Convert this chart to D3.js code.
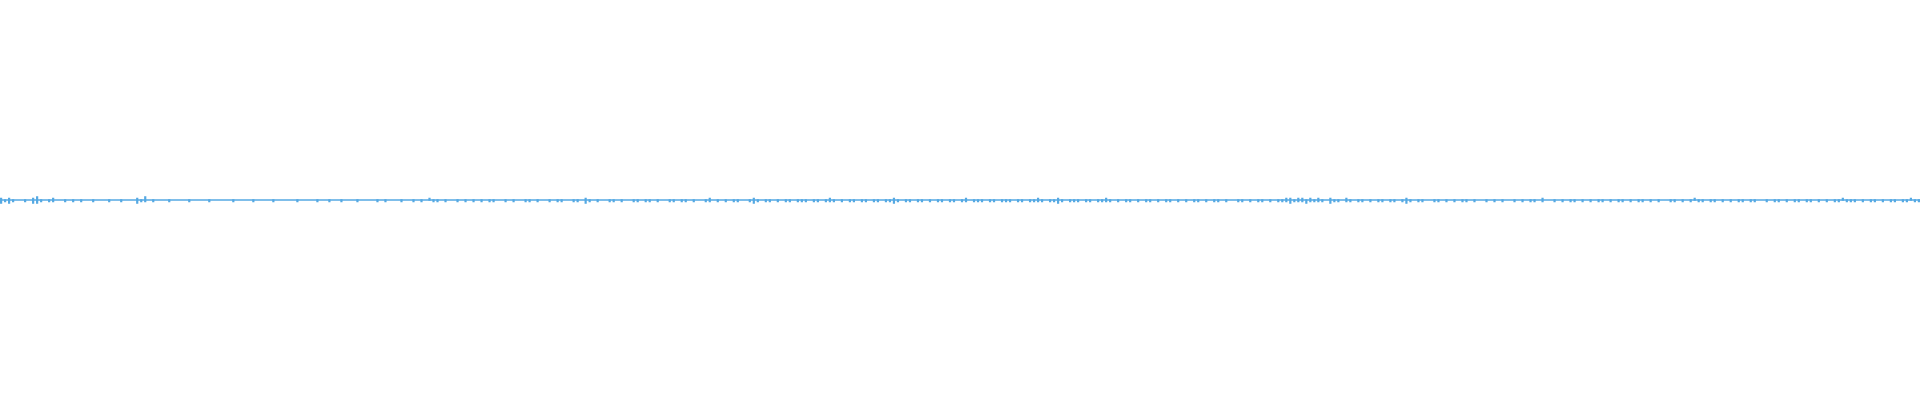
<!DOCTYPE html>
<html><head><meta charset="utf-8">
<script src="https://cdn.jsdelivr.net/npm/d3@7"></script>
<style>html,body{margin:0;padding:0;background:#fff;overflow:hidden}</style>
</head><body><svg id="c" width="1920" height="400"></svg>
<script>
// downward peak per bin (sample units)
const lowPeaks = [
2,1,2,1,0,0,1,0,2,2,1,0,1,1,0,0,1,0,1,0, 1,0,0,1,0,0,0,1,0,0,1,0,0,0,2,1,1,0,1,0,
0,0,1,0,0,0,0,1,0,0,0,0,1,0,0,0,0,0,1,0, 0,0,0,1,0,0,0,0,1,0,0,0,0,0,1,0,0,0,0,1,
0,0,1,0,0,1,0,0,0,1,0,0,0,0,1,0,1,0,0,0, 1,0,0,1,0,1,0,0,1,1,0,1,0,0,1,0,1,0,1,0,
1,0,1,1,0,0,1,0,1,0,0,1,1,0,1,0,0,1,0,1, 1,0,0,1,1,0,2,1,0,1,0,0,1,1,0,1,0,0,1,1,
0,1,1,0,1,0,0,1,1,0,1,1,0,1,0,0,1,1,0,1, 0,1,0,1,1,0,0,1,2,1,0,1,1,0,1,0,1,1,0,1,
1,1,0,1,1,0,1,1,1,0,1,0,1,1,0,1,1,0,1,1, 0,1,1,2,1,0,1,1,0,1,1,0,1,0,1,1,0,1,1,0,
1,1,0,1,1,1,0,1,1,0,1,1,1,0,1,1,0,1,1,1, 1,0,1,1,2,1,0,1,1,1,0,1,1,0,1,1,1,1,0,1,
0,1,1,0,1,0,1,1,0,1,0,1,1,0,1,0,1,0,1,1, 0,1,0,1,1,0,1,0,0,1,1,0,1,0,1,1,0,1,0,1,
1,1,2,1,1,1,2,1,1,1,1,0,2,1,1,0,1,1,0,1, 1,0,1,0,1,1,0,1,1,0,1,2,1,0,1,1,0,0,1,1,
0,1,0,1,0,1,1,0,1,0,0,1,0,1,0,1,0,0,1,0, 1,0,1,1,0,1,0,0,1,0,1,0,1,1,0,1,0,1,0,1,
1,0,1,0,1,1,0,1,0,1,1,0,1,0,1,0,0,1,1,0, 1,0,1,0,1,1,0,1,1,0,1,0,1,0,1,1,0,1,1,0,
0,1,0,1,1,0,1,0,1,1,0,1,1,0,1,0,1,0,1,1, 0,1,1,1,0,1,0,1,1,0,1,0,1,1,0,1,1,0,1,1
];
// upward peak per bin (sample units)
const highPeaks = [
1,0,1,0,0,0,0,0,1,2,0,0,0,1,0,0,0,0,0,0, 0,0,0,0,0,0,0,0,0,0,0,0,0,0,1,0,2,0,0,0,
0,0,0,0,0,0,0,0,0,0,0,0,0,0,0,0,0,0,0,0, 0,0,0,0,0,0,0,0,0,0,0,0,0,0,0,0,0,0,0,0,
0,0,0,0,0,0,0,0,0,0,0,0,0,0,0,0,0,0,0,0, 0,0,0,0,0,0,0,1,0,0,0,0,0,0,0,0,0,0,0,0,
0,0,0,0,0,0,0,0,0,0,0,0,0,0,0,0,0,0,0,0, 0,0,0,0,0,0,1,0,0,0,0,0,0,0,0,0,0,0,0,0,
0,0,0,0,0,0,0,0,0,0,0,0,0,0,0,0,0,1,0,0, 0,0,0,0,0,0,0,0,1,0,0,0,0,0,0,0,0,0,0,0,
0,0,0,0,0,0,0,1,0,0,0,0,0,0,0,0,0,0,0,0, 0,0,0,1,0,0,0,0,0,0,0,0,0,0,0,0,0,0,0,0,
0,1,0,0,0,0,0,0,0,0,0,0,0,0,0,0,0,0,0,1, 0,0,0,0,1,0,0,0,0,0,0,0,0,0,0,0,1,0,0,0,
0,0,0,0,0,0,0,0,0,0,0,0,0,0,0,0,0,0,0,0, 0,0,0,0,0,0,0,0,0,0,0,0,0,0,0,0,0,0,0,0,
0,1,1,0,1,1,0,1,0,1,0,0,1,0,0,0,1,0,0,0, 0,0,0,0,0,0,0,0,0,0,0,1,0,0,0,0,0,0,0,0,
0,0,0,0,0,0,0,0,0,0,0,0,0,0,0,0,0,0,0,0, 0,0,0,0,0,1,0,0,0,0,0,0,0,0,0,0,0,0,0,0,
0,0,0,0,0,0,0,0,0,0,0,0,0,0,0,0,0,0,0,0, 0,0,0,1,0,0,0,0,0,0,0,0,0,0,0,0,0,0,0,0,
0,0,0,0,0,0,0,0,0,0,0,0,0,0,0,0,0,0,0,0, 1,0,0,0,0,0,0,0,0,0,0,0,0,0,0,0,0,1,0,0
];

const W = 1920, H = 400, color = "#55a9e3";
const svg = d3.select("#c");
const x = d3.scaleBand().domain(d3.range(lowPeaks.length)).range([0, W]).paddingInner(0.45);
const y = d3.scaleLinear().domain([-133, 133]).range([H, 0]);
const cy = y(0) - 0.75;

svg.append("rect").attr("x", 0).attr("y", cy).attr("width", W).attr("height", 1.5).attr("fill", color);

svg.append("g").selectAll("rect")
  .data(lowPeaks.map((l, i) => ({i, l, h: highPeaks[i]})).filter(d => d.l > 0 || d.h > 0))
  .join("rect")
  .attr("x", d => x(d.i))
  .attr("width", x.bandwidth())
  .attr("y", d => y(d.h) - 0.75)
  .attr("height", d => (y(-d.l) - y(d.h)) + 1.5)
  .attr("fill", color);
</script></body></html>
